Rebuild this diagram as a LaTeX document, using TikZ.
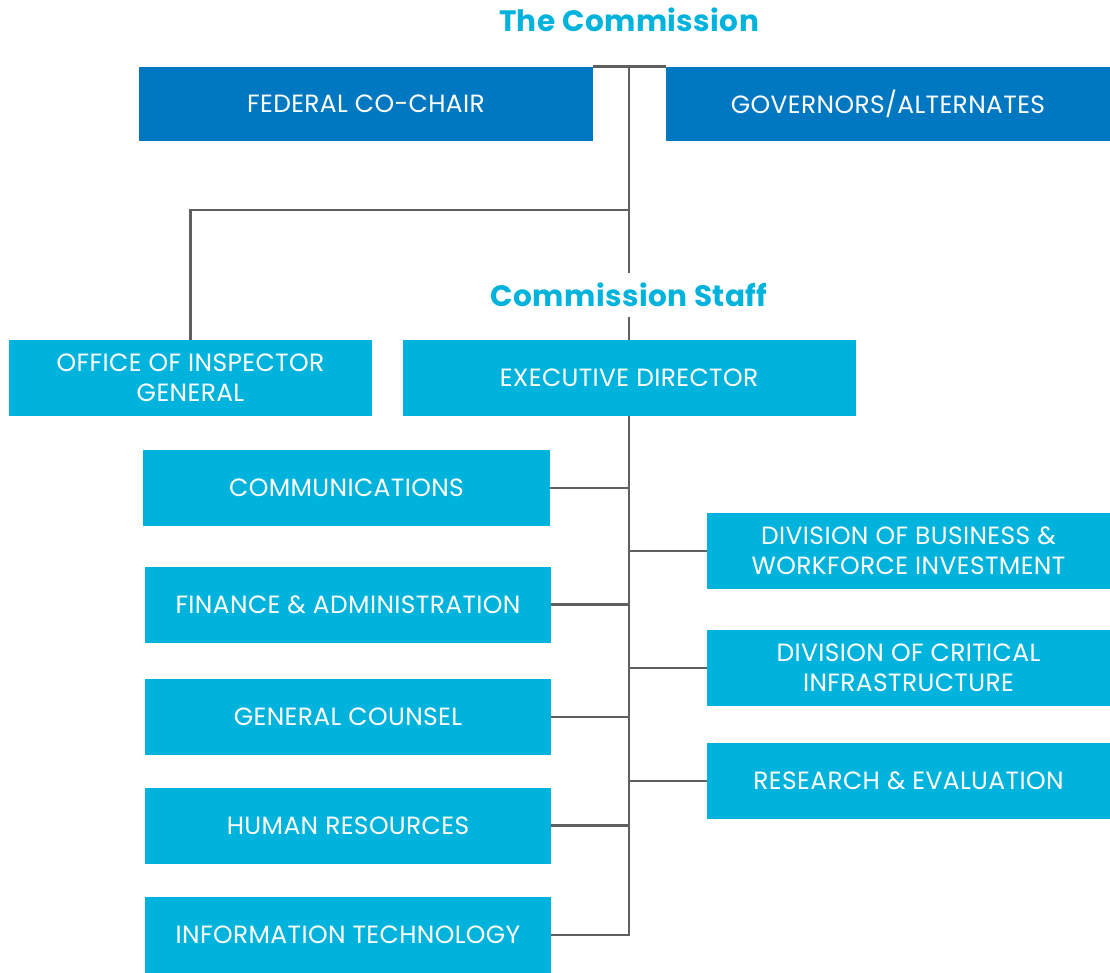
\documentclass[tikz,border=0pt]{standalone}
\usepackage{fontspec}
\setmainfont{Poppins}[LetterSpace=1.5]
\definecolor{darkblue}{HTML}{0077C1}
\definecolor{lightblue}{HTML}{00B3DC}
\definecolor{linegray}{HTML}{5F5F5F}
\tikzset{
  box/.style={fill=#1, text=white, align=center, inner sep=0pt,
    font=\fontsize{14.2}{17}\selectfont},
  topbox/.style={box=darkblue, minimum height=74*0.02cm},
  staffbox/.style={box=lightblue, minimum height=76*0.02cm},
  heading/.style={text=lightblue, font=\fontsize{16.8}{20}\selectfont\bfseries},
  link/.style={draw=linegray, line width=1.6pt}
}
\begin{document}
\begin{tikzpicture}[x=0.02cm, y=-0.02cm]
  \useasboundingbox (0,0) rectangle (1110,973);
  \node[heading] (commission) at (629,20) {The Commission};
  \node[topbox, minimum width=454*0.02cm] (fed) at (366,104) {FEDERAL CO-CHAIR};
  \node[topbox, minimum width=444*0.02cm] (gov) at (888,104) {GOVERNORS/ALTERNATES};
  \node[staffbox, minimum width=363*0.02cm] (oig) at (190.5,378) {OFFICE OF INSPECTOR\\GENERAL};
  \node[staffbox, minimum width=453*0.02cm] (exec) at (629,378) {EXECUTIVE DIRECTOR};
  \node[staffbox, minimum width=407*0.02cm] (comm) at (346.5,488) {COMMUNICATIONS};
  \node[staffbox, minimum width=406*0.02cm] (fin) at (348,604.5) {FINANCE \& ADMINISTRATION};
  \node[staffbox, minimum width=406*0.02cm] (gc) at (348,717) {GENERAL COUNSEL};
  \node[staffbox, minimum width=406*0.02cm] (hr) at (348,825.5) {HUMAN RESOURCES};
  \node[staffbox, minimum width=406*0.02cm] (it) at (348,935) {INFORMATION TECHNOLOGY};
  \node[staffbox, minimum width=403*0.02cm] (biz) at (908.5,551) {DIVISION OF BUSINESS \&\\WORKFORCE INVESTMENT};
  \node[staffbox, minimum width=403*0.02cm] (crit) at (908.5,668) {DIVISION OF CRITICAL\\INFRASTRUCTURE};
  \node[staffbox, minimum width=403*0.02cm] (res) at (908.5,781) {RESEARCH \& EVALUATION};
  \coordinate (top) at (629,67);
  \coordinate (branch) at (629,210);
  \begin{scope}[link]
    \draw (fed.north east) -- (gov.north west);
    \draw (top) -- (exec.north);
    \draw (branch) -| (oig.north);
    \draw (exec.south) |- (it.east);
    \draw (comm.east) -- (comm.east -| exec.south);
    \draw (fin.east) -- (fin.east -| exec.south);
    \draw (gc.east) -- (gc.east -| exec.south);
    \draw (hr.east) -- (hr.east -| exec.south);
    \draw (biz.west) -- (biz.west -| exec.south);
    \draw (crit.west) -- (crit.west -| exec.south);
    \draw (res.west) -- (res.west -| exec.south);
  \end{scope}
  \node[heading, fill=white, inner ysep=6pt] (staff) at (629,295) {Commission Staff};
\end{tikzpicture}
\end{document}
